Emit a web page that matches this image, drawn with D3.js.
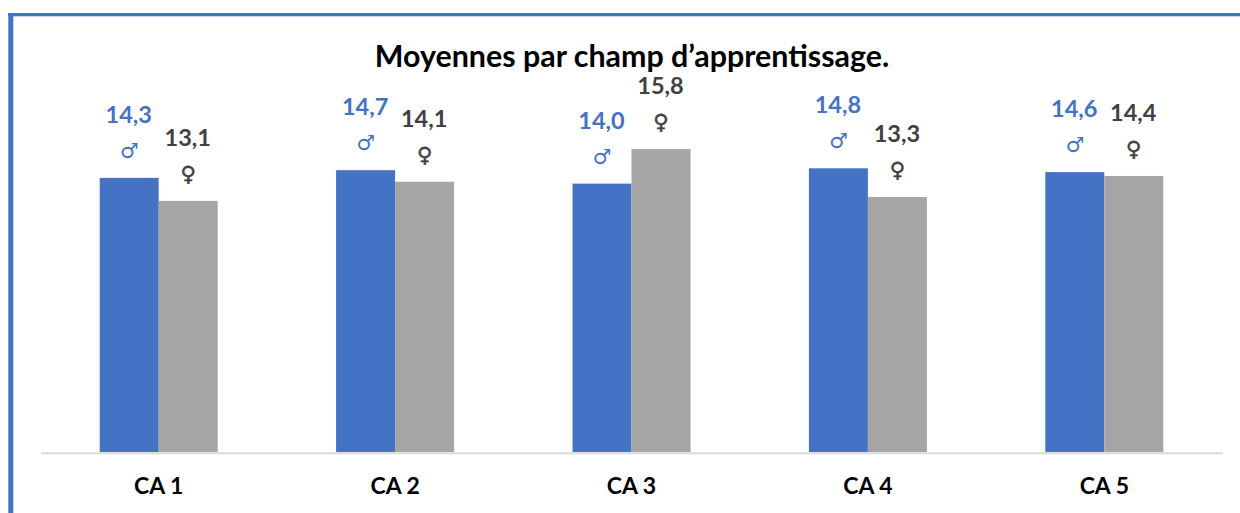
<!DOCTYPE html>
<html>
<head>
<meta charset="utf-8">
<script src="https://cdnjs.cloudflare.com/ajax/libs/d3/7.8.5/d3.min.js"></script>
<style>
  html, body { margin: 0; padding: 0; background: #fff; }
  svg { display: block; }
  text { font-family: Lato, "Open Sans", sans-serif; font-weight: 700; }
</style>
</head>
<body>
<div class="chart"></div>
<script>
const categories = ["CA 1", "CA 2", "CA 3", "CA 4", "CA 5"]
const garcons = [14.3, 14.7, 14.0, 14.8, 14.6]
const filles = [13.1, 14.1, 15.8, 13.3, 14.4]
const seriesNames = ["garcons", "filles"]
const seriesSymbols = ["\u2642", "\u2640"]
const seriesColors = ["#4472c4", "#a5a5a5"]
const labelColors = ["#4472c4", "#404040"]
const title = "Moyennes par champ d\u2019apprentissage."

const svgWidth = 1240
const svgHeight = 513
const baseline = 452
const barWidth = 59

const svg = d3.select(".chart").append("svg")
    .attr("width", svgWidth)
    .attr("height", svgHeight)

// bordure du cadre, seulement en haut et a gauche
svg.append("rect")
    .attr("x", 8.3)
    .attr("y", 13)
    .attr("width", 5)
    .attr("height", svgHeight - 13)
    .attr("fill", "#4472c4")

svg.append("rect")
    .attr("x", 8.3)
    .attr("y", 13)
    .attr("width", svgWidth)
    .attr("height", 3.3)
    .attr("fill", "#4472c4")

const xScale = d3.scaleBand()
    .domain(categories)
    .range([40.5, 1222.5])

const xInner = d3.scaleBand()
    .domain(seriesNames)
    .range([-barWidth, barWidth])

const yScale = d3.scaleLinear()
    .domain([0, 20])
    .range([baseline, baseline - 20 * 19.17])

const series = [garcons, filles]

series.forEach((values, s) => {
    const group = svg.append("g")
    const x = (i) => xScale(categories[i]) + xScale.bandwidth() / 2 + xInner(seriesNames[s])

    group.selectAll("rect")
        .data(values)
        .join("rect")
        .attr("x", (d, i) => x(i))
        .attr("y", d => yScale(d))
        .attr("width", barWidth)
        .attr("height", d => baseline - yScale(d))
        .attr("fill", seriesColors[s])

    group.selectAll("text.value")
        .data(values)
        .join("text")
        .attr("class", "value")
        .attr("x", (d, i) => x(i) + barWidth / 2 - 0.5)
        .attr("y", d => yScale(d) - 55)
        .attr("text-anchor", "middle")
        .attr("fill", labelColors[s])
        .attr("font-size", "23.5px")
        .text(d => d.toFixed(1).replace(".", ","))

    group.selectAll("text.symbol")
        .data(values)
        .join("text")
        .attr("class", "symbol")
        .attr("x", (d, i) => x(i) + barWidth / 2)
        .attr("y", d => yScale(d) - 20)
        .attr("text-anchor", "middle")
        .attr("fill", labelColors[s])
        .attr("stroke", s === 1 ? labelColors[s] : "none")
        .attr("stroke-width", 0.5)
        .attr("font-size", "21px")
        .style("font-family", "DejaVu Sans")
        .style("font-weight", "400")
        .text(seriesSymbols[s])
})

const xAxis = d3.axisBottom(xScale).tickSize(0).tickPadding(25)

const axisGroup = svg.append("g")
    .attr("transform", `translate(0, ${baseline + 0.7})`)
    .call(xAxis)

axisGroup.select(".domain")
    .attr("stroke", "#d9d9d9")
    .attr("stroke-width", 2)

axisGroup.selectAll("text")
    .attr("fill", "#000")
    .attr("font-size", "23px")
    .style("font-family", "Lato, sans-serif")

svg.append("text")
    .attr("x", 632)
    .attr("y", 67)
    .attr("text-anchor", "middle")
    .attr("fill", "#000")
    .attr("font-size", "30.4px")
    .text(title)
</script>
</body>
</html>
